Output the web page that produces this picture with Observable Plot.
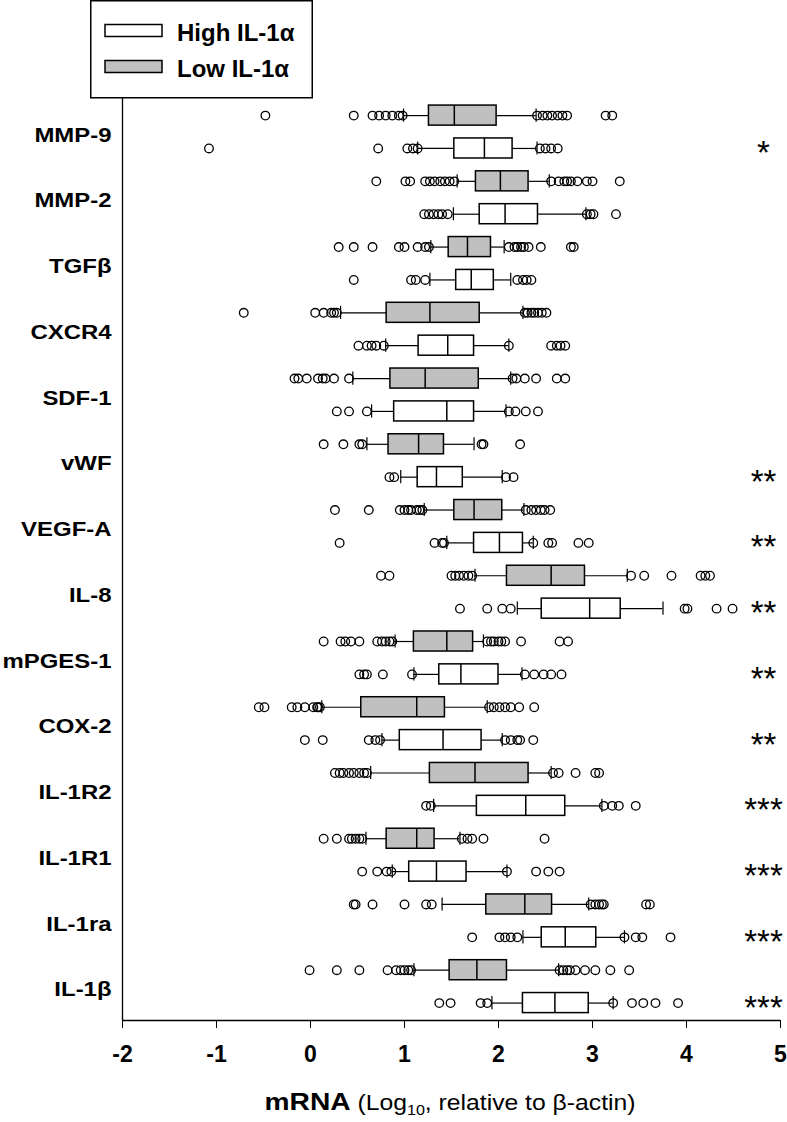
<!DOCTYPE html>
<html><head><meta charset="utf-8">
<script src="https://cdn.jsdelivr.net/npm/d3@7"></script>
<script src="https://cdn.jsdelivr.net/npm/@observablehq/plot@0.6"></script>
<style>
body{margin:0;background:#fff;}
#wrap{position:relative;width:787px;height:1122px;font-family:"Liberation Sans",Arial,sans-serif;}
#wrap svg{display:block}
.ov{position:absolute;left:0;top:0;overflow:visible}
</style></head><body><div id="wrap"></div>
<script>
const genes = ["MMP-9","MMP-2","TGFβ","CXCR4","SDF-1","vWF","VEGF-A","IL-8","mPGES-1","COX-2","IL-1R2","IL-1R1","IL-1ra","IL-1β"];
const groups = ["Low IL-1α","High IL-1α"];
const significance = ["*","","","","","**","**","**","**","**","***","***","***","***"];
const xTicks = [-2,-1,0,1,2,3,4,5];

// Low IL-1α group: whisker ends, quartiles, median
const lowWhiskerLo = [0.99,1.56,1.28,0.32,0.45,0.60,1.21,1.75,0.90,0.12,0.64,0.59,1.40,1.10];
const lowQ1        = [1.26,1.76,1.47,0.81,0.85,0.83,1.53,2.09,1.10,0.54,1.27,0.81,1.87,1.48];
const lowMedian    = [1.53,2.02,1.67,1.27,1.22,1.15,1.74,2.56,1.45,1.13,1.75,1.13,2.28,1.77];
const lowQ3        = [1.98,2.32,1.92,1.80,1.79,1.42,2.04,2.92,1.73,1.43,2.32,1.32,2.57,2.09];
const lowWhiskerHi = [2.40,2.54,2.06,2.26,2.13,1.74,2.27,3.37,1.84,1.88,2.56,1.59,2.96,2.64];
const lowOutliers = [
  [-0.48,0.46,0.66,0.73,0.80,0.87,0.94,0.98,2.41,2.47,2.52,2.57,2.63,2.68,2.73,3.14,3.21],
  [0.70,1.01,1.06,1.22,1.27,1.32,1.38,1.43,1.48,1.53,2.56,2.64,2.70,2.73,2.77,2.84,2.94,3.00,3.29],
  [0.30,0.46,0.66,0.94,1.00,1.14,1.22,1.26,2.11,2.17,2.20,2.24,2.27,2.32,2.45,2.77,2.80],
  [-0.71,0.05,0.14,0.22,0.25,0.28,2.28,2.31,2.35,2.38,2.42,2.46,2.51],
  [-0.17,-0.13,-0.04,0.08,0.13,0.16,0.25,0.41,2.15,2.19,2.28,2.40,2.62,2.71],
  [0.14,0.35,0.52,0.55,1.82,1.84,2.23],
  [0.26,0.62,0.95,1.00,1.04,1.07,1.13,1.16,1.19,2.29,2.35,2.40,2.45,2.49,2.55],
  [0.75,0.84,1.50,1.54,1.58,1.63,1.68,1.72,3.41,3.55,3.84,4.15,4.20,4.25],
  [0.14,0.32,0.37,0.43,0.52,0.71,0.76,0.80,0.84,0.87,1.88,1.92,1.95,2.00,2.03,2.07,2.24,2.65,2.74],
  [-0.55,-0.49,-0.20,-0.14,-0.06,0.03,0.07,0.08,0.10,1.90,1.95,2.01,2.07,2.13,2.22,2.38],
  [0.26,0.31,0.35,0.41,0.46,0.52,0.57,0.60,2.58,2.64,2.82,3.03,3.07],
  [0.14,0.28,0.41,0.44,0.48,0.52,0.55,1.61,1.67,1.72,1.84,2.49],
  [0.46,0.48,0.66,1.00,1.23,1.29,2.98,3.03,3.07,3.10,3.12,3.57,3.61],
  [-0.01,0.28,0.52,0.82,0.91,0.96,1.00,1.04,1.07,2.65,2.69,2.73,2.76,2.82,2.92,3.03,3.19,3.39]
];

// High IL-1α group
const highWhiskerLo = [1.14,1.52,1.27,0.80,0.65,0.96,1.45,2.20,1.10,0.76,1.31,0.87,2.26,1.93];
const highQ1        = [1.53,1.80,1.55,1.15,0.89,1.14,1.74,2.46,1.37,0.95,1.77,1.05,2.46,2.26];
const highMedian    = [1.85,2.07,1.71,1.46,1.45,1.34,2.01,2.97,1.60,1.41,2.29,1.34,2.71,2.60];
const highQ3        = [2.15,2.42,1.95,1.74,1.74,1.62,2.26,3.30,2.00,1.82,2.71,1.66,3.04,2.96];
const highWhiskerHi = [2.41,2.93,2.13,2.11,2.08,2.04,2.37,3.75,2.25,2.04,3.10,2.09,3.34,3.22];
const highOutliers = [
  [-1.08,0.72,1.03,1.09,1.14,2.44,2.50,2.56,2.63],
  [1.21,1.26,1.31,1.36,1.40,1.46,2.94,2.98,3.01,3.25],
  [0.46,1.07,1.12,1.22,2.20,2.26,2.30,2.35],
  [0.51,0.60,0.65,0.70,0.78,2.11,2.56,2.62,2.66,2.71],
  [0.28,0.41,0.60,2.11,2.18,2.29,2.42],
  [0.84,0.89,2.08,2.16],
  [0.31,1.32,1.40,1.42,2.37,2.53,2.57,2.85,2.96],
  [1.59,1.88,2.04,2.13,3.98,4.01,4.32,4.49],
  [0.52,0.57,0.60,0.77,1.08,2.28,2.38,2.48,2.56,2.67],
  [-0.06,0.13,0.62,0.69,0.74,2.07,2.13,2.20,2.23,2.37],
  [1.23,1.28,3.12,3.21,3.28,3.46],
  [0.55,0.71,0.81,0.86,2.09,2.40,2.53,2.65],
  [1.72,2.01,2.07,2.13,2.20,3.34,3.46,3.53,3.83],
  [1.37,1.49,1.81,1.88,3.22,3.42,3.54,3.67,3.91]
];

// Build tables (row position: Low above High within each gene)
const rows = [];
genes.forEach((g, i) => {
  rows.push({gene: g, group: groups[0], pos: 2*i, wlo: lowWhiskerLo[i], q1: lowQ1[i], med: lowMedian[i], q3: lowQ3[i], whi: lowWhiskerHi[i], out: lowOutliers[i]});
  rows.push({gene: g, group: groups[1], pos: 2*i+1, wlo: highWhiskerLo[i], q1: highQ1[i], med: highMedian[i], q3: highQ3[i], whi: highWhiskerHi[i], out: highOutliers[i]});
});
const outliers = rows.flatMap(r => r.out.map(v => ({pos: r.pos, v, group: r.group})));
const sig = genes.map((g, i) => ({pos: 2*i+1, s: significance[i]})).filter(d => d.s);

const BOX = 0.305, CAP = 0.2;
const font = '"Liberation Sans", Arial, sans-serif';

const chart = Plot.plot({
  width: 787, height: 1122,
  marginLeft: 122, marginRight: 7, marginTop: 98, marginBottom: 102,
  style: {fontFamily: font, background: "white", color: "black"},
  x: {domain: [-2, 5]},
  y: {domain: [-0.52, 27.53], reverse: true},
  color: {domain: groups, range: ["#c0c0c0", "#ffffff"]},
  marks: [
    Plot.ruleY(rows, {y: "pos", x1: "wlo", x2: "q1", stroke: "black", strokeWidth: 1.2}),
    Plot.ruleY(rows, {y: "pos", x1: "q3", x2: "whi", stroke: "black", strokeWidth: 1.2}),
    Plot.ruleX(rows, {x: "wlo", y1: d => d.pos - CAP, y2: d => d.pos + CAP, stroke: "black", strokeWidth: 1.2}),
    Plot.ruleX(rows, {x: "whi", y1: d => d.pos - CAP, y2: d => d.pos + CAP, stroke: "black", strokeWidth: 1.2}),
    Plot.rect(rows, {x1: "q1", x2: "q3", y1: d => d.pos - BOX, y2: d => d.pos + BOX, fill: "group", stroke: "black", strokeWidth: 1.5}),
    Plot.ruleX(rows, {x: "med", y1: d => d.pos - BOX, y2: d => d.pos + BOX, stroke: "black", strokeWidth: 1.5}),
    Plot.dot(outliers, {x: "v", y: "pos", r: 4.3, stroke: "black", strokeWidth: 1.3, fill: "none"}),
    Plot.text(sig, {y: "pos", text: "s", frameAnchor: "right", textAnchor: "middle", dx: -17, dy: 5, fontSize: 33, fill: "black"}),
    Plot.ruleX([-2], {stroke: "black", strokeWidth: 1.3}),
    Plot.ruleY([27.53], {stroke: "black", strokeWidth: 1.3}),
    Plot.axisX({ticks: xTicks, tickSize: 8, tickPadding: 17, fontSize: 23, fontWeight: "bold", label: null, tickFormat: d => String(d)}),
    Plot.axisY({ticks: genes.map((g, i) => 2*i + 0.5), tickFormat: t => genes[Math.round((t - 0.5) / 2)], tickSize: 0, tickPadding: 11, fontSize: 21, fontWeight: "bold", label: null, dy: 3})
  ]
});
const wrap = document.getElementById("wrap");
wrap.appendChild(chart);

// Widen the y tick labels horizontally (reference glyphs are stretched), keeping the anchor fixed
const SX = 1.14;
d3.select(chart).selectAll('g[aria-label="y-axis tick label"] text').each(function() {
  const x = +(this.getAttribute("x") || 0);
  const tr = this.getAttribute("transform") || "";
  this.setAttribute("transform", `${tr} translate(${x * (1 - SX)},0) scale(${SX},1)`);
});

// Legend (top-left box)
const leg = d3.select(wrap).append("svg").attr("class", "ov").attr("width", 330).attr("height", 100)
  .style("font-family", font);
leg.append("rect").attr("x", 90.75).attr("y", 0.75).attr("width", 221.5).attr("height", 97)
  .attr("fill", "white").attr("stroke", "black").attr("stroke-width", 1.5);
const legendItems = [groups[1], groups[0]];
legendItems.forEach((g, i) => {
  const yTop = 24.5 + i * 36;
  leg.append("rect").attr("x", 105).attr("y", yTop).attr("width", 57).attr("height", 12)
    .attr("fill", g === groups[0] ? "#c0c0c0" : "#ffffff").attr("stroke", "black").attr("stroke-width", 1.5);
  leg.append("text").attr("x", 177).attr("y", yTop + 16).attr("font-size", 24).attr("font-weight", "bold").text(g);
});

// X-axis title
const tt = d3.select(wrap).append("svg").attr("class", "ov").attr("width", 787).attr("height", 1122)
  .style("pointer-events", "none").style("font-family", font);
const t = tt.append("text").attr("transform", "translate(450,1110) scale(1.15,1)").attr("text-anchor", "middle").attr("fill", "black");
t.append("tspan").attr("font-weight", "bold").attr("font-size", 24.5).text("mRNA");
t.append("tspan").attr("font-size", 21.5).text(" (Log");
t.append("tspan").attr("font-size", 14).attr("dy", 5).text("10");
t.append("tspan").attr("font-size", 21.5).attr("dy", -5).text(", relative to β-actin)");
</script></body></html>
